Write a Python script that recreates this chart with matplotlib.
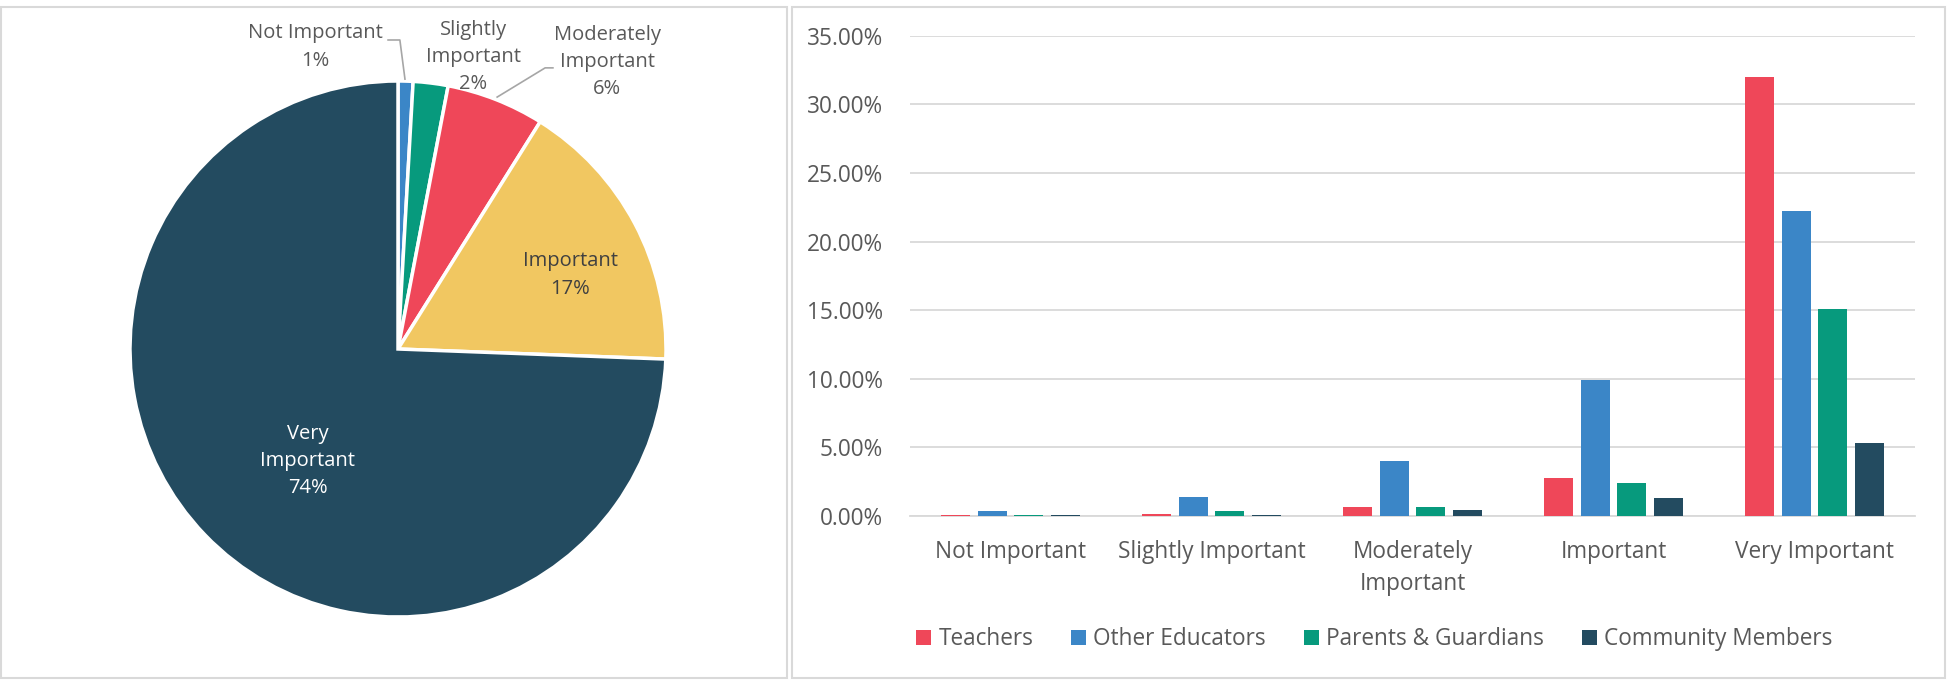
import numpy as np
import matplotlib
matplotlib.use("Agg")
from matplotlib import pyplot as plt
from matplotlib.patches import Rectangle
from matplotlib.ticker import PercentFormatter

plt.rcParams['font.family'] = ['Open Sans', 'DejaVu Sans']

# data
levels = ["Not Important", "Slightly Important", "Moderately Important", "Important", "Very Important"]
pie_values = [0.9, 2.1, 5.9, 16.7, 74.4]
pie_labels = ["Not Important", "Slightly\nImportant", "Moderately\nImportant", "Important", "Very\nImportant"]
pie_colors = ["#3B86C7", "#079A7D", "#EF4759", "#F1C761", "#234B60"]

bar_ticks = ["Not Important", "Slightly Important", "Moderately\nImportant", "Important", "Very Important"]
groups = ["Teachers", "Other Educators", "Parents & Guardians", "Community Members"]
teachers = [0.05, 0.15, 0.68, 2.8, 32.0]
other_educators = [0.34, 1.35, 4.0, 9.9, 22.2]
parents = [0.05, 0.36, 0.68, 2.38, 15.1]
community = [0.05, 0.05, 0.45, 1.28, 5.35]
bar_colors = ["#EF4759", "#3B86C7", "#079A7D", "#234B60"]

text_color = "#595959"
fs_pie = 14.5
fs_bar = 16.3
W, H = 1950, 688

fig = plt.figure(figsize=(19.5, 6.88), dpi=100)

# panel borders
for x0, x1 in [(1, 787), (792, 1945)]:
    fig.add_artist(Rectangle((x0 / W, 1 - 678 / H), (x1 - x0) / W, (678 - 7) / H,
                             transform=fig.transFigure, fill=False,
                             edgecolor="#D9D9D9", lw=1.5))

# ---- pie ----
cx, cy, r = 398, 349, 268
ax1 = fig.add_axes([(cx - r) / W, 1 - (cy + r) / H, 2 * r / W, 2 * r / H])
ax1.pie(pie_values, colors=pie_colors, startangle=90, counterclock=False,
        wedgeprops=dict(edgecolor="white", linewidth=2.5))
ax1.set_xlim(-1, 1)
ax1.set_ylim(-1, 1)
ax1.axis("off")

label_pos = [(-0.307, 1.127), (0.28, 1.09), (0.78, 1.07), (0.642, 0.276), (-0.336, -0.418)]
label_col = [text_color, text_color, text_color, "#404040", "white"]
for lab, v, (x, y), c in zip(pie_labels, pie_values, label_pos, label_col):
    ax1.text(x, y, f"{lab}\n{round(v):d}%", ha="center", va="center",
             fontsize=fs_pie, color=c, linespacing=1.48, clip_on=False)

# leader lines
ax1.plot([-0.037, 0.007, 0.026], [1.153, 1.153, 1.007], color="#A6A6A6", lw=1.2, clip_on=False)
ax1.plot([0.578, 0.549, 0.37], [1.049, 1.049, 0.94], color="#A6A6A6", lw=1.2, clip_on=False)

# ---- bars ----
ax2 = fig.add_axes([910 / W, 1 - 516 / H, 1005 / W, 480.3 / H])
x = np.arange(len(levels))
width = 0.145
step = 0.182
series = [teachers, other_educators, parents, community]
for i, (name, vals, col) in enumerate(zip(groups, series, bar_colors)):
    ax2.bar(x + (i - 1.5) * step, vals, width, color=col, label=name, zorder=3)

ax2.set_xlim(-0.5, len(levels) - 0.5)
ax2.set_ylim(0, 35)
ax2.set_yticks(np.arange(0, 36, 5))
ax2.yaxis.set_major_formatter(PercentFormatter(decimals=2))
ax2.grid(axis="y", color="#D9D9D9", lw=1.3, zorder=0)
for s in ["top", "right", "left"]:
    ax2.spines[s].set_visible(False)
ax2.spines["bottom"].set_color("#D9D9D9")
ax2.spines["bottom"].set_linewidth(1.3)
ax2.set_xticks(x)
ax2.set_xticklabels(bar_ticks, linespacing=1.44)
ax2.tick_params(axis="y", length=0, pad=19.5, labelsize=fs_bar, labelcolor=text_color)
ax2.tick_params(axis="x", length=0, pad=17.5, labelsize=fs_bar, labelcolor=text_color)

leg = ax2.legend(loc="center", bbox_to_anchor=(0.462, -0.257), ncol=4, frameon=False,
                 fontsize=fs_bar, handlelength=0.66, handleheight=0.66, handletextpad=0.31,
                 columnspacing=1.68, labelcolor=text_color)

fig.savefig("out.png", dpi=100)
